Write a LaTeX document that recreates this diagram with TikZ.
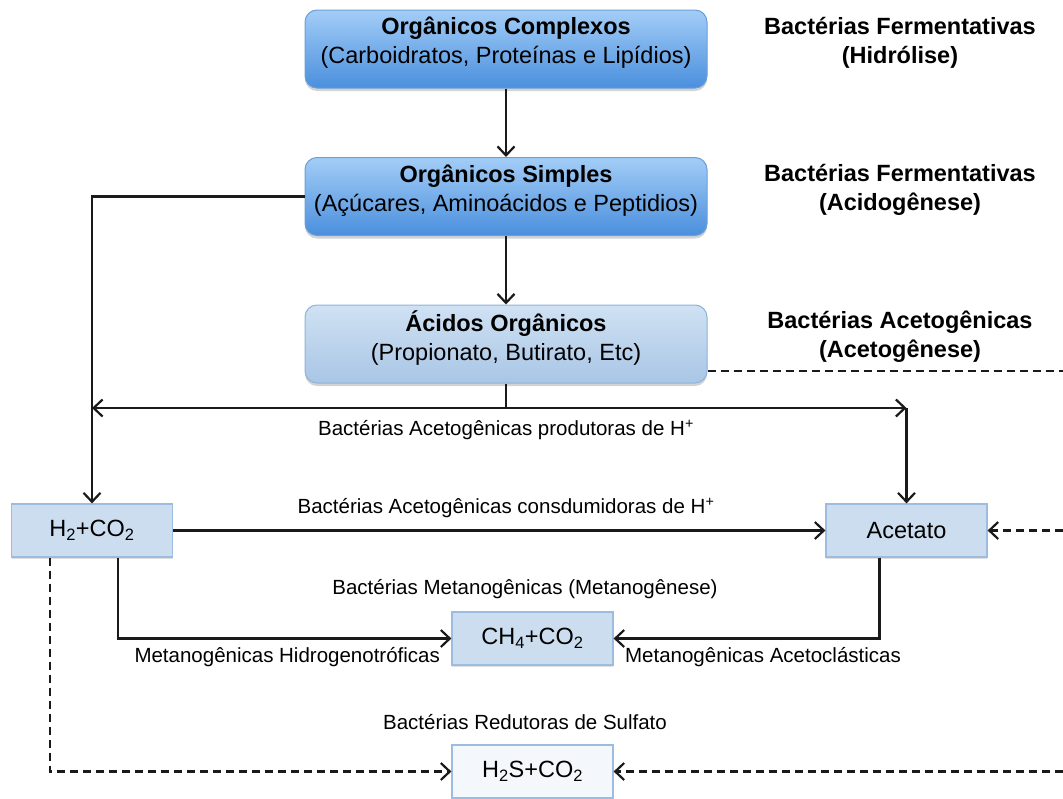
\documentclass[tikz,border=0pt]{standalone}
\usepackage{fontspec}
\setmainfont{Liberation Sans}
\usepackage{xcolor}
\usepackage{tikz}
\usetikzlibrary{calc}
\usetikzlibrary{arrows.meta, shadows, positioning}

\definecolor{deeptop}{HTML}{A3CDF7}
\definecolor{deepbot}{HTML}{4A8FDD}
\definecolor{deepline}{HTML}{6B9FD6}
\definecolor{paletop}{HTML}{D0E1F3}
\definecolor{palebot}{HTML}{A8C6E6}
\definecolor{paleline}{HTML}{8EB3DB}
\definecolor{flatfill}{HTML}{CCDDEF}
\definecolor{flatline}{HTML}{9CBCE0}
\definecolor{ghostfill}{HTML}{F4F8FC}
\definecolor{inkline}{HTML}{1A1A1A}

\begin{document}
\begin{tikzpicture}[x=1pt,y=-1pt,line width=2.2pt,
                    main node/.style={rounded corners=12pt,draw=deepline,line width=1pt,
                      top color=deeptop,bottom color=deepbot,minimum width=402pt,minimum height=78pt,
                      align=center,text depth=17pt,font=\fontsize{23.5}{29}\selectfont,
                      drop shadow={opacity=0.35,shadow xshift=0pt,shadow yshift=-3pt}},
                    acid node/.style={main node,draw=paleline,top color=paletop,bottom color=palebot},
                    gas node/.style={draw=flatline,line width=1.2pt,fill=flatfill,minimum width=161pt,
                      minimum height=53pt,font=\fontsize{23.5}{29}\selectfont,
                      drop shadow={opacity=0.25,shadow xshift=0pt,shadow yshift=-2pt}},
                    ghost node/.style={gas node,fill=ghostfill},
                    stage/.style={align=center,font=\fontsize{23.5}{29}\selectfont\bfseries},
                    tag/.style={font=\fontsize{20.5}{24}\selectfont,inner sep=0pt},
                    flow/.style={draw=inkline,line width=2.2pt,
                      -{Straight Barb[length=9pt,width=17pt,line width=2.2pt]}},
                    link/.style={draw=inkline,line width=2.2pt},
                    dash flow/.style={flow,dash pattern=on 8pt off 5pt},
                    dash link/.style={link,dash pattern=on 8pt off 5pt}]

  \useasboundingbox (0,0) rectangle (1063,798);

  \node[main node] (complexos) at (506,49) {\textbf{Orgânicos Complexos}\\(Carboidratos, Proteínas e Lipídios)};
  \node[main node] (simples) at (506,196.5) {\textbf{Orgânicos Simples}\\(Açúcares, Aminoácidos e Peptidios)};
  \node[acid node] (acidos) at (506,344) {\textbf{Ácidos Orgânicos}\\(Propionato, Butirato, Etc)};

  \node[stage] (hidrolise) at (900,43) {Bactérias Fermentativas\\(Hidrólise)};
  \node[stage] (acidogenese) at (900,190) {Bactérias Fermentativas\\(Acidogênese)};
  \node[stage] (acetogenese) at (900,337) {Bactérias Acetogênicas\\(Acetogênese)};

  \node[gas node] (h2co2) at (92,530.5) {H\textsubscript{2}+CO\textsubscript{2}};
  \node[gas node] (acetato) at (906.5,530.5) {Acetato};
  \node[gas node] (ch4) at (532.5,638.5) {CH\textsubscript{4}+CO\textsubscript{2}};
  \node[ghost node] (h2s) at (532.5,771.5) {H\textsubscript{2}S+CO\textsubscript{2}};

  \coordinate (split) at (506,408);
  \coordinate (corner) at (split -| acetato.north);
  \coordinate (hydro) at ($(h2co2.south)+(26,0)$);
  \coordinate (aceto) at ($(acetato.south)+(-27,0)$);
  \coordinate (sulfo) at ($(h2co2.south)+(-42,0)$);
  \coordinate (edge1) at (1063,371);
  \coordinate (edge2) at (1063,530.5);
  \coordinate (edge3) at (1063,771.5);

  \path (complexos) edge[flow] (simples)
        (simples) edge[flow] (acidos);
  \draw[flow] (simples.west) -| (h2co2.north);
  \draw[link] (acidos.south) -- (split);
  \draw[flow] (split) -- (split -| h2co2.north);
  \draw[flow] (split) -- (corner);
  \draw[flow] (corner) -- (acetato.north);
  \draw[flow] (h2co2.east) -- (acetato.west);
  \draw[flow] (hydro) |- (ch4.west);
  \draw[flow] (aceto) |- (ch4.east);
  \draw[dash flow] (sulfo) |- (h2s.west);
  \draw[dash link] (acidos.east |- edge1) -- (edge1);
  \draw[dash flow] (edge2) -- (acetato.east);
  \draw[dash flow] (edge3) -- (h2s.east);

  \node[tag] (produtoras) at (506,430) {Bactérias Acetogênicas produtoras de H\textsuperscript{+}};
  \node[tag] (consumidoras) at (506,508) {Bactérias Acetogênicas consdumidoras de H\textsuperscript{+}};
  \node[tag] (metano) at (525,589) {Bactérias Metanogênicas (Metanogênese)};
  \node[tag,anchor=east] (hidrogeno) at (441,657) {Metanogênicas Hidrogenotróficas};
  \node[tag,anchor=west] (acetoclast) at (624,657) {Metanogênicas Acetoclásticas};
  \node[tag] (sulfato) at (525,722) {Bactérias Redutoras de Sulfato};

\end{tikzpicture}
\end{document}
